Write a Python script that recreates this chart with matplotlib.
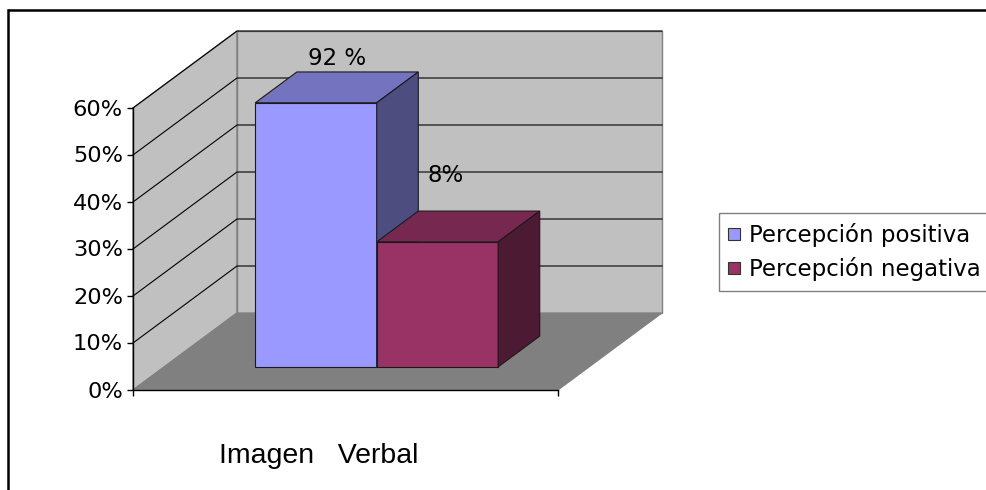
import matplotlib
matplotlib.use("Agg")
import matplotlib.pyplot as plt
from matplotlib.patches import Polygon
from matplotlib.lines import Line2D
from matplotlib import markers

# ---- data -------------------------------------------------------------
categories = ["Imagen   Verbal"]
series_names = ["Percepción positiva", "Percepción negativa"]
series_values = [56.2, 26.6]          # bar heights in percent
value_labels = ["92 %", "8%"]
tick_values = [0, 10, 20, 30, 40, 50, 60]
tick_labels = ["0%", "10%", "20%", "30%", "40%", "50%", "60%"]

# ---- style ------------------------------------------------------------
front_colors = ["#9999ff", "#993366"]
top_colors = ["#7373bf", "#772850"]
side_colors = ["#4d4d80", "#4d1a33"]
wall_color = "#c0c0c0"
floor_color = "#808080"

W, H, DPI = 986, 490, 100
fig = plt.figure(figsize=(W / DPI, H / DPI), dpi=DPI)
fig.patch.set_facecolor("white")
ax = fig.add_axes([0, 0, 1, 1])
ax.axis("off")

# front plane scale: one category = 425 px, 10 % = 47 px
PX_X = 425.0
PX_V = 4.7
ORIGIN_X, ORIGIN_Y = 133, 390          # pixel position of (0, 0%) from top-left
ax.set_xlim(-ORIGIN_X / PX_X, (W - ORIGIN_X) / PX_X)
ax.set_ylim(-(H - ORIGIN_Y) / PX_V, ORIGIN_Y / PX_V)

# oblique depth direction (full depth = 104 px right, 77 px up)
DX = 104 / PX_X
DY = 77 / PX_V
vmax = tick_values[-1]


def proj(x, v, d):
    return (x + DX * d, v + DY * d)


def face(pts, fc, ec, lw=0.8, z=1):
    ax.add_patch(Polygon([proj(*p) for p in pts], closed=True, facecolor=fc,
                         edgecolor=ec, linewidth=lw, zorder=z, joinstyle="miter"))


# walls and floor
face([(0, 0, 0), (0, 0, 1), (0, vmax, 1), (0, vmax, 0)], wall_color, "#808080", 1.0, 1)
face([(0, 0, 1), (1, 0, 1), (1, vmax, 1), (0, vmax, 1)], wall_color, "#808080", 1.0, 1)
face([(0, 0, 0), (1, 0, 0), (1, 0, 1), (0, 0, 1)], floor_color, floor_color, 0.8, 1)

# gridlines on side and back walls
for v in tick_values[1:]:
    xs, ys = zip(proj(0, v, 0), proj(0, v, 1), proj(1, v, 1))
    ax.plot(xs, ys, color="black", linewidth=0.8, zorder=2)

# axes lines and ticks
ax.plot([0, 0], [0, vmax], color="black", linewidth=1.0, zorder=3)
ax.plot([0, 1], [0, 0], color="black", linewidth=1.0, zorder=3)
ax.plot([0] * len(tick_values), tick_values, linestyle="none",
        marker=markers.TICKLEFT, markersize=4.5, markeredgewidth=1.0,
        color="black", zorder=3)
ax.plot([0, 1], [0, 0], linestyle="none", marker=markers.TICKDOWN,
        markersize=4.5, markeredgewidth=1.0, color="black", zorder=3)

for v, lab in zip(tick_values, tick_labels):
    ax.annotate(lab, xy=(0, v), xytext=(-10, -1.5), textcoords="offset pixels",
                ha="right", va="center", fontsize=16.2, family="DejaVu Sans",
                color="black")

# 3D bars (gap width 150 %, gap depth 150 %)
n = len(series_values)
gap = 1.5
w = 1.0 / (n + gap)
d0, d1 = 0.3, 0.7
label_offsets = [(-20.5, 7), (-33.5, 29)]
for i, val in enumerate(series_values):
    x0 = gap / 2 * w + i * w
    x1 = x0 + w
    face([(x0, 0, d0), (x1, 0, d0), (x1, val, d0), (x0, val, d0)],
         front_colors[i], "#1a1a1a", 0.8, 4 + i)
    face([(x0, val, d0), (x1, val, d0), (x1, val, d1), (x0, val, d1)],
         top_colors[i], "#1a1a1a", 0.8, 4 + i)
    face([(x1, 0, d0), (x1, 0, d1), (x1, val, d1), (x1, val, d0)],
         side_colors[i], "#1a1a1a", 0.8, 4 + i)
    ax.annotate(value_labels[i], xy=proj((x0 + x1) / 2, val, d1),
                xytext=label_offsets[i], textcoords="offset pixels",
                ha="center", va="baseline", fontsize=16.5,
                family="DejaVu Sans", color="black", zorder=10)

# category label
for j, cat in enumerate(categories):
    ax.annotate(cat, xy=proj(j + 0.5, 0, 0), xytext=(-26.5, -73),
                textcoords="offset pixels", ha="center", va="baseline",
                fontsize=20.5, family="Liberation Sans", color="black")

# legend
handles = [Line2D([], [], linestyle="none", marker="s", markersize=8.0,
                  markerfacecolor=c, markeredgecolor="#333333",
                  markeredgewidth=0.8) for c in front_colors]
leg = fig.legend(handles, series_names, loc="upper left",
                 bbox_to_anchor=(719 / W, 1 - 213 / H),
                 bbox_transform=fig.transFigure, borderaxespad=0,
                 frameon=True, fancybox=False, framealpha=1,
                 edgecolor="#808080", prop={"family": "DejaVu Sans", "size": 16.5},
                 handlelength=0.45, handletextpad=0.4, borderpad=0.45,
                 labelspacing=0.42)
leg.get_frame().set_linewidth(1.0)

# outer frame: top and left edges
fig.add_artist(Line2D([8 / W, 1.0], [1 - 10 / H, 1 - 10 / H],
                      transform=fig.transFigure, color="black", linewidth=1.8,
                      solid_capstyle="butt"))
fig.add_artist(Line2D([8 / W, 8 / W], [0.0, 1 - 10 / H],
                      transform=fig.transFigure, color="black", linewidth=1.8,
                      solid_capstyle="projecting"))

fig.savefig("out.png", dpi=DPI)
